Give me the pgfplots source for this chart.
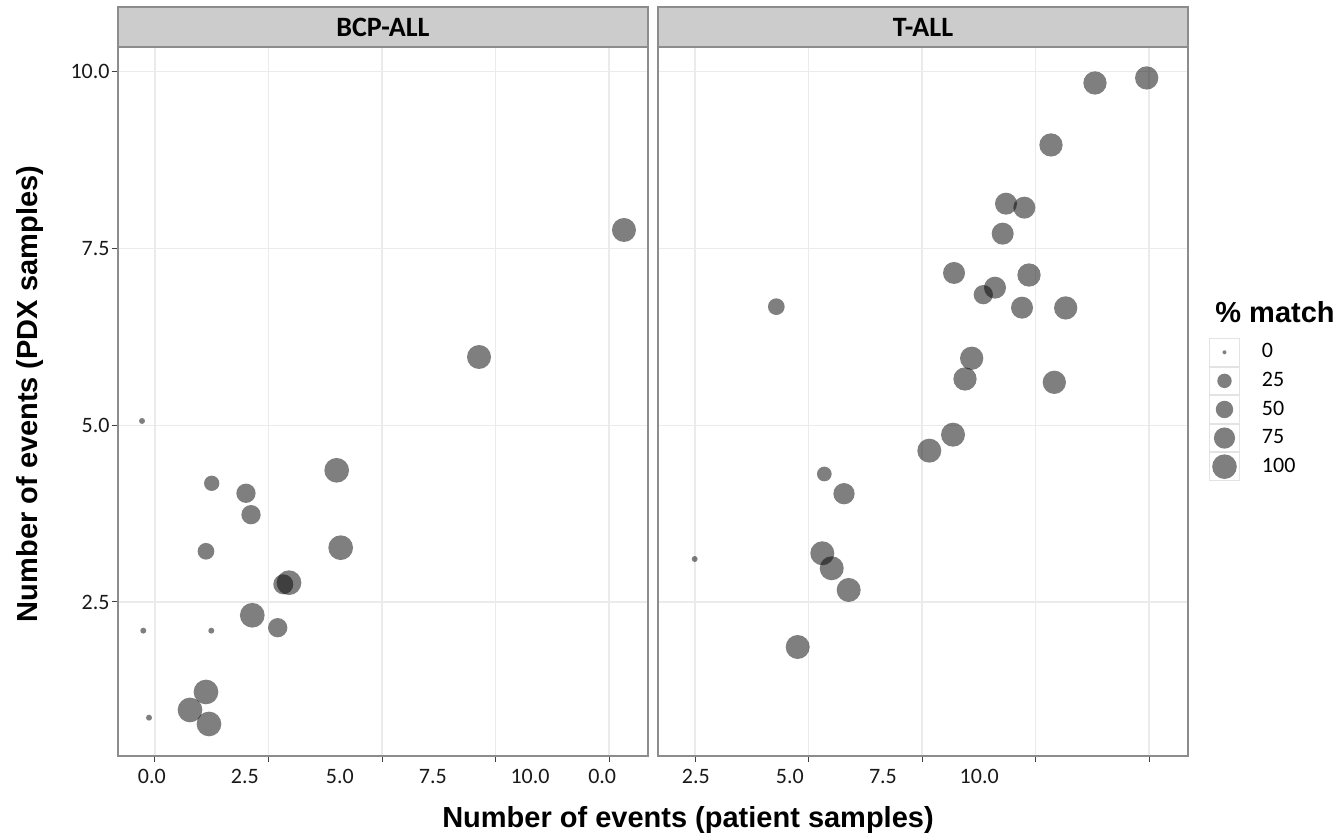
\documentclass[border=0pt]{standalone}
\usepackage{fontspec}
\setmainfont{Carlito}
\newfontfamily\arialfont{Liberation Sans}
\usepackage{pgfplots}
\usepackage{pgfplotstable}
\pgfplotsset{compat=1.18}
\definecolor{gridc}{HTML}{EBEBEB}
\definecolor{borderc}{HTML}{8C8C8C}
\definecolor{stripc}{HTML}{CCCCCC}
\definecolor{keyc}{HTML}{E3E3E3}

% x = patient events, y = PDX events, d = point diameter (px), from % match
\pgfplotstableread{
x y d
-0.286 5.061 6
1.249 4.179 15.3
2.004 4.038 19.3
2.115 3.735 19.3
1.123 3.217 16.7
4.002 4.363 24.7
4.090 3.268 24.7
2.952 2.773 24.7
2.826 2.750 20
2.143 2.312 24.7
2.703 2.136 19.3
-0.258 2.094 6
1.240 2.094 6
1.123 1.227 24.7
0.771 0.972 24.7
1.189 0.774 24.7
-0.132 0.863 6
10.33 7.763 24
7.137 5.966 24
}\bcpall

\pgfplotstableread{
x y d
8.81 9.843 23.3
9.949 9.914 23.3
7.841 8.966 23.3
6.850 8.135 22
7.254 8.079 22
6.777 7.711 22
5.705 7.155 22
7.357 7.126 23.3
6.608 6.947 22
6.350 6.848 19.3
7.203 6.664 22
8.165 6.660 23.3
6.094 5.948 23.3
5.947 5.655 23.3
7.914 5.608 23.3
1.791 6.678 16.7
5.683 4.867 24
5.161 4.641 24
2.848 4.311 14.7
3.282 4.032 21.3
-0.007 3.108 6
2.804 3.189 24
3.011 2.977 24
3.385 2.670 24
2.262 1.863 24
}\tall

\pgfplotsset{
  panel/.style={
    anchor=south west, scale only axis,
    width=265pt, height=354.5pt,
    xmin=-0.815, xmax=10.859, ymin=0.321, ymax=10.352,
    xtick={0,2.5,5,7.5,10}, xticklabels={},
    ytick={2.5,5,7.5,10},
    xtick pos=lower, ytick pos=left,
    tick align=outside, major tick length=3pt,
    tick style={color=black!75, line width=0.5pt},
    grid=major, major grid style={draw=gridc, line width=0.6pt},
    axis line style={draw=borderc, line width=0.7pt},
    ticklabel style={font=\fontsize{11}{13}\selectfont, text=black!90},
    yticklabel style={inner xsep=1pt},
    extra x tick style={grid=none, tick style={draw=none}},
    title style={at={(0.5,1)}, anchor=south, fill=stripc, draw=borderc, line width=0.7pt,
      minimum width=265pt, minimum height=20pt, inner sep=0pt, outer sep=0pt, yshift=-6pt,
      font=\bfseries\fontsize{14}{16}\selectfont},
  },
  bubbles/.style={
    scatter, only marks, mark=*, forget plot,
    scatter/use mapped color={draw opacity=0, fill=black, fill opacity=0.5},
    visualization depends on={\thisrow{d}/4 \as \perpointsize},
    scatter/@pre marker code/.append style={/tikz/mark size=\perpointsize},
  },
}

\newcommand{\keyimg}[1]{\addlegendimage{legend image code/.code={%
  \path[draw=keyc, fill=white, line width=0.5pt] (0pt,-6.9pt) rectangle (15pt,6.9pt);
  \path[draw=none, fill=black, fill opacity=0.5] (7.5pt,0pt) circle (#1);}}}

\begin{document}
\begin{tikzpicture}
\useasboundingbox (-59pt,-38.5pt) rectangle (610.5pt,378pt);

\begin{axis}[panel, at={(0pt,0pt)}, title={BCP-ALL},
  yticklabels={2.5,5.0,7.5,10.0},
  extra x ticks={-0.07,1.98,4.07,6.12,8.26,9.85},
  extra x tick labels={0.0,2.5,5.0,7.5,10.0,0.0}]
\addplot[bubbles] table[x=x,y=y] {\bcpall};
\end{axis}

\begin{axis}[panel, at={(270pt,0pt)}, title={T-ALL},
  yticklabels={}, y tick style={draw=none},
  extra x ticks={0.02,2.09,4.14,6.26},
  extra x tick labels={2.5,5.0,7.5,10.0},
  legend style={at={(1.0396,0.5896)}, anchor=north west, draw=none, fill=none,
    inner sep=0pt, outer sep=0pt, row sep=0pt, column sep=11pt,
    font=\fontsize{11}{13}\selectfont, nodes={inner sep=0pt, outer sep=0pt},
    cells={anchor=west}}]
\addplot[bubbles] table[x=x,y=y] {\tall};
\keyimg{1pt}\addlegendentry{0}
\keyimg{3.6pt}\addlegendentry{25}
\keyimg{4.35pt}\addlegendentry{50}
\keyimg{5.3pt}\addlegendentry{75}
\keyimg{6.15pt}\addlegendentry{100}
\end{axis}

\node[anchor=base west, inner sep=0pt, font=\arialfont\bfseries\fontsize{14.5}{17}\selectfont]
  at (548.5pt,216.5pt) {\% match};
\node[rotate=90, anchor=center, inner sep=0pt, font=\arialfont\bfseries\fontsize{14.5}{17}\selectfont]
  at (-44pt,181pt) {Number of events (PDX samples)};
\node[anchor=base, inner sep=0pt, font=\arialfont\bfseries\fontsize{14.5}{17}\selectfont]
  at (285pt,-36pt) {Number of events (patient samples)};
\end{tikzpicture}
\end{document}
